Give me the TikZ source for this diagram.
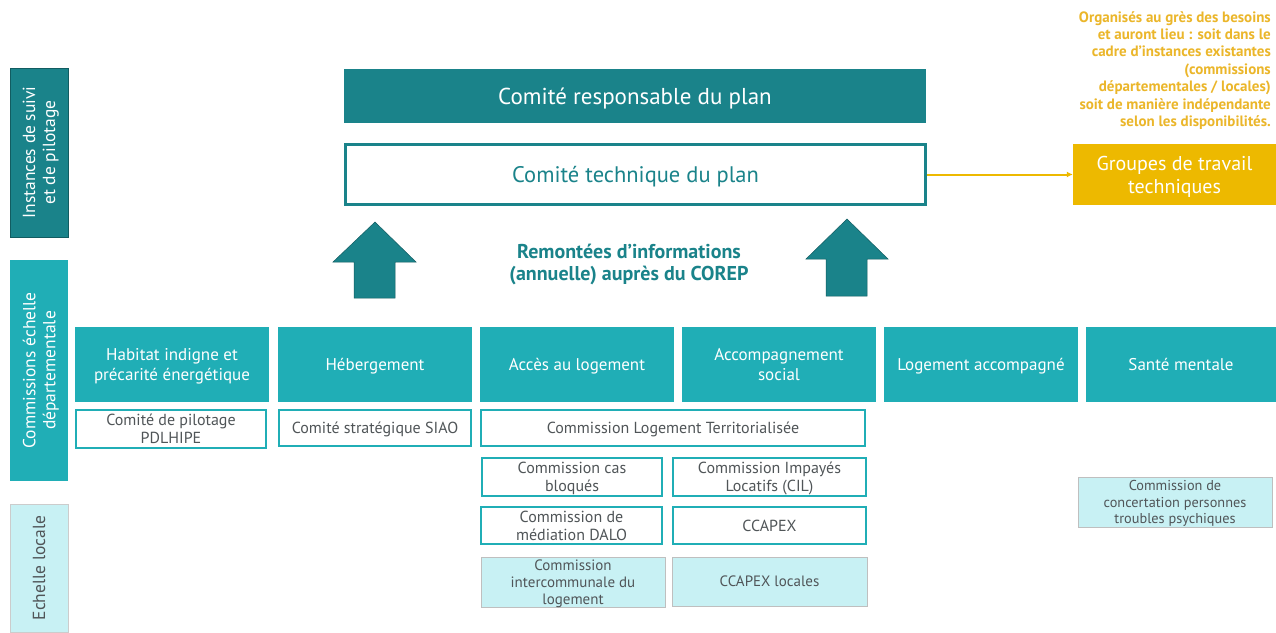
\documentclass[tikz,border=0pt]{standalone}
\usepackage{fontspec}
\setmainfont{PT Sans}
\usetikzlibrary{arrows.meta}
\definecolor{dteal}{HTML}{1A838A}
\definecolor{teal2}{HTML}{20AEB6}
\definecolor{lcyan}{HTML}{C8F1F4}
\definecolor{gold}{HTML}{EDB900}
\definecolor{goldtxt}{HTML}{EBB62A}
\definecolor{gtxt}{HTML}{505558}
\begin{document}
\begin{tikzpicture}[x=1pt,y=-1pt,
  box/.style={draw=none,inner sep=0pt,align=center,text depth=0pt},
  side/.style={box,text=white,font=\fontsize{17.5}{20}\selectfont},
  topbox/.style={box,fill=teal2,text=white,font=\fontsize{17}{20}\selectfont},
  wbox/.style={box,fill=white,draw=teal2,line width=2pt,text=gtxt,font=\fontsize{16}{18}\selectfont},
  lbox/.style={box,fill=lcyan,draw=gray!50,line width=0.7pt,text=gtxt,font=\fontsize{15}{17}\selectfont},
  bigarrow/.style={fill=dteal,draw=dteal!70!black,line width=0.5pt}]
\useasboundingbox (0,0) rectangle (1276,632);
\fill[white] (0,0) rectangle (1276,632);
% side labels
\node[side,fill=dteal,draw=dteal!70!black,line width=0.5pt,minimum width=169pt,minimum height=58pt,rotate=90] (s1) at (39,152.5) {Instances de suivi\\et de pilotage};
\node[side,fill=teal2,minimum width=221pt,minimum height=58pt,rotate=90] (s2) at (39,370.5) {Commissions échelle\\départementale};
\node[side,fill=lcyan,draw=gray!40,line width=0.7pt,text=gtxt,minimum width=128pt,minimum height=58pt,rotate=90] (s3) at (39,568) {Echelle locale};
% top
\node[box,fill=dteal,text=white,minimum width=582pt,minimum height=54pt,text depth=-3pt,font=\fontsize{23}{26}\selectfont] (resp) at (635,96) {Comité responsable du plan};
\node[box,fill=white,draw=dteal,line width=3pt,text=dteal,minimum width=580pt,minimum height=60pt,text depth=-3pt,font=\fontsize{22.5}{26}\selectfont] (tech) at (635.5,174.5) {Comité technique du plan};
\node[box,fill=gold,text=white,minimum width=203pt,minimum height=61pt,font=\fontsize{20}{23}\selectfont] (gt) at (1174.5,174.5) {Groupes de travail\\techniques};
\draw[gold,line width=2pt,-{Latex[length=6pt,width=6pt]}] (tech.east) -- (gt.west);
\node[box,text=goldtxt,align=right,anchor=north east,font=\bfseries\fontsize{15}{17.4}\selectfont] (note) at (1271,11) {Organisés au grès des besoins\\et auront lieu : soit dans le\\cadre d'instances existantes\\(commissions\\départementales / locales)\\soit de manière indépendante\\selon les disponibilités.};
% arrows
\draw[bigarrow] (375,222) -- (416,262) -- (395,262) -- (395,298) -- (354,298) -- (354,262) -- (333,262) -- cycle;
\draw[bigarrow] (847,219) -- (888,259) -- (867,259) -- (867,296) -- (826,296) -- (826,259) -- (806,259) -- cycle;
\node[box,text=dteal,font=\bfseries\fontsize{20}{22}\selectfont] (rem) at (629,262) {Remontées d’informations\\(annuelle) auprès du COREP};
% top row
\node[topbox,minimum width=194pt,minimum height=75pt] (t1) at (172,364.5) {Habitat indigne et\\précarité énergétique};
\node[topbox,minimum width=194pt,minimum height=75pt] (t2) at (375,364.5) {Hébergement};
\node[topbox,minimum width=194pt,minimum height=75pt] (t3) at (577,364.5) {Accès au logement};
\node[topbox,minimum width=194pt,minimum height=75pt] (t4) at (779,364.5) {Accompagnement\\social};
\node[topbox,minimum width=194pt,minimum height=75pt] (t5) at (981,364.5) {Logement accompagné};
\node[topbox,minimum width=190pt,minimum height=75pt] (t6) at (1181,364.5) {Santé mentale};
% white boxes
\node[wbox,minimum width=190pt,minimum height=38pt] (w1) at (171,429) {Comité de pilotage\\PDLHIPE};
\node[wbox,minimum width=192pt,minimum height=36pt] (w2) at (375,428) {Comité stratégique SIAO};
\node[wbox,minimum width=384pt,minimum height=36pt] (w3) at (673,428) {Commission Logement Territorialisée};
\node[wbox,minimum width=180pt,minimum height=38pt] (w4) at (572,477) {Commission cas\\bloqués};
\node[wbox,minimum width=193pt,minimum height=38pt] (w5) at (769.5,477) {Commission Impayés\\Locatifs (CIL)};
\node[wbox,minimum width=181pt,minimum height=37pt] (w6) at (571.5,525.5) {Commission de\\médiation DALO};
\node[wbox,minimum width=193pt,minimum height=37pt] (w7) at (769.5,525.5) {CCAPEX};
% light boxes
\node[lbox,minimum width=184pt,minimum height=50pt] (l1) at (573,582) {Commission\\intercommunale du\\logement};
\node[lbox,minimum width=195pt,minimum height=49pt] (l2) at (769.5,581.5) {CCAPEX locales};
\node[lbox,minimum width=194pt,minimum height=50pt,font=\fontsize{14.3}{16.5}\selectfont] (l3) at (1175,502) {Commission de\\concertation personnes\\troubles psychiques};
\end{tikzpicture}
\end{document}
